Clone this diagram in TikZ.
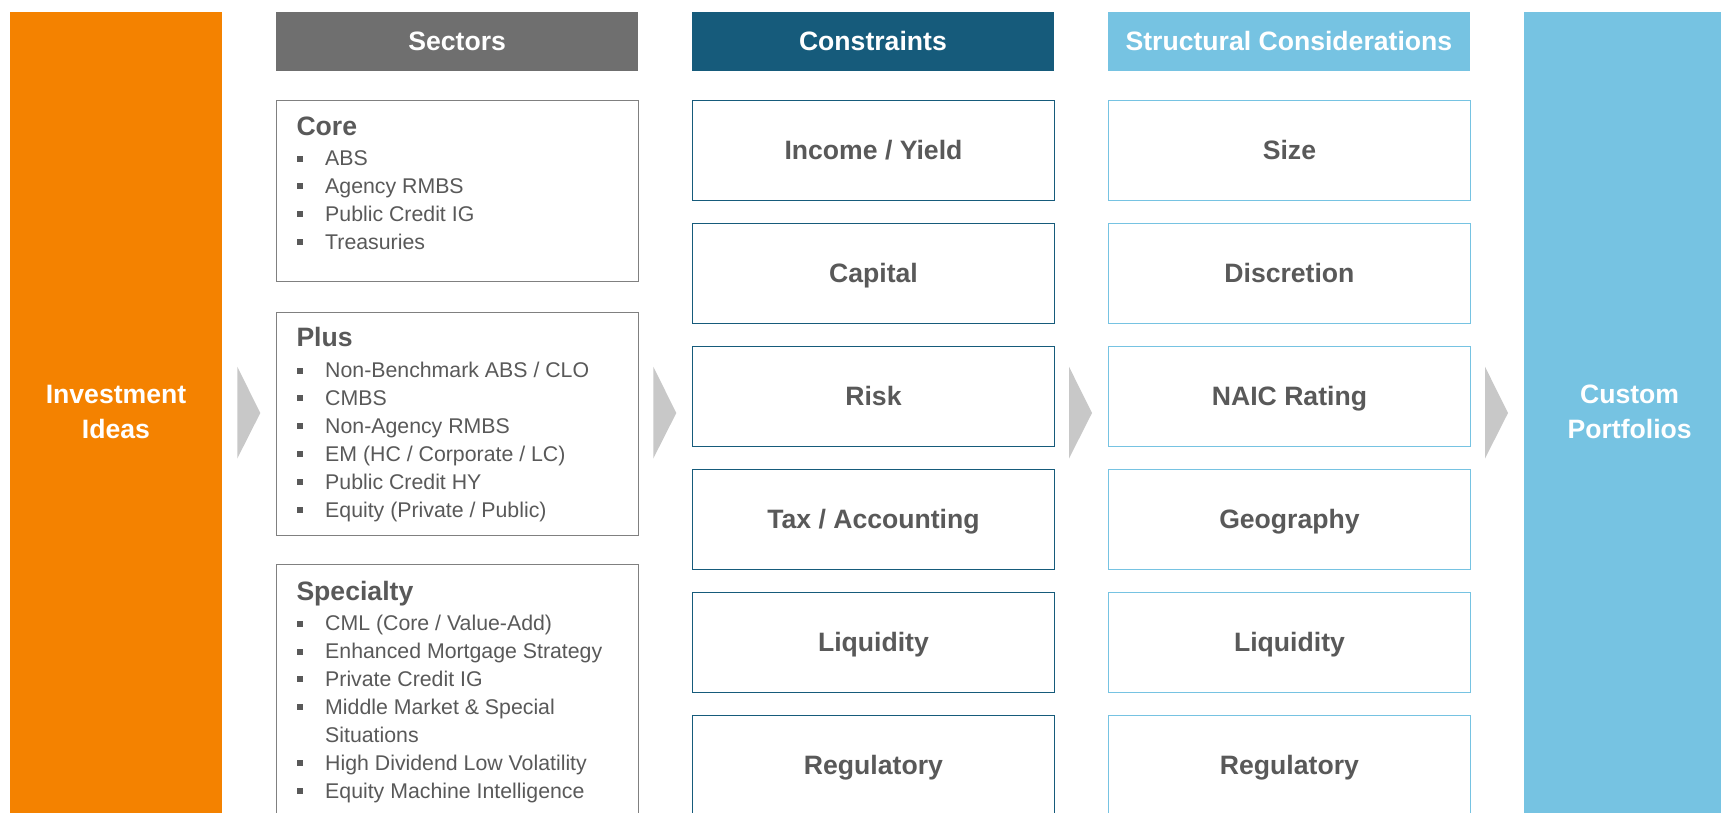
\documentclass[tikz,border=0pt]{standalone}
\usepackage{fontspec}
\setmainfont{Liberation Sans}
\definecolor{iorange}{HTML}{F48200}
\definecolor{hgray}{HTML}{6F6F6F}
\definecolor{cblue}{HTML}{165B7B}
\definecolor{lblue}{HTML}{76C3E2}
\definecolor{bgray}{HTML}{808080}
\definecolor{tgray}{HTML}{595959}
\definecolor{agray}{HTML}{C8C8C8}
\newcommand\bitem[3]{%
  \node[bsq] (#1b) at (300.3,#2-7.2) {};
  \node[itm] (#1) at (325,#2) {#3};}
\begin{document}
\begin{tikzpicture}[x=1pt,y=-1pt,
  bigfont/.style={font=\bfseries\fontsize{26.6}{35.3}\selectfont},
  side/.style={rectangle, inner sep=0pt, anchor=north west, minimum width=212pt, minimum height=830pt},
  sidetxt/.style={bigfont, text=white, align=center, inner sep=0pt},
  hdr/.style={rectangle, inner sep=0pt, anchor=north west, minimum width=362pt, minimum height=58.7pt, text=white, bigfont, text height=17.5pt, text depth=0pt},
  sbox/.style={rectangle, draw=bgray, line width=1.2pt, fill=white, anchor=north west, minimum width=362pt, inner sep=0pt},
  cbox/.style={rectangle, line width=1.5pt, fill=white, anchor=north west, minimum width=362pt, minimum height=100pt, inner sep=0pt, text=tgray, bigfont, text height=17.5pt, text depth=0pt},
  shd/.style={anchor=base west, inner sep=0pt, text=tgray, bigfont},
  itm/.style={anchor=base west, inner sep=0pt, text=tgray, font=\fontsize{21.3}{25}\selectfont},
  bsq/.style={rectangle, fill=tgray, minimum size=6pt, inner sep=0pt},
  chev/.style={fill=agray, draw=none}]
\useasboundingbox (0,0) rectangle (1721,812);
\clip (0,0) rectangle (1721,812);
% side columns
\node[side, fill=iorange] (inv) at (10,12) {};
\node[sidetxt] (invt) at (116,412) {Investment\\Ideas};
\node[side, fill=lblue] (cus) at (1523.6,12) {};
\node[sidetxt] (cust) at (1629.6,411.5) {Custom\\Portfolios};
% headers
\node[hdr, fill=hgray] (hsec) at (276,12) {Sectors};
\node[hdr, fill=cblue] (hcon) at (691.7,12) {Constraints};
\node[hdr, fill=lblue] (hstr) at (1107.7,12) {Structural Considerations};
% sector boxes
\node[sbox, minimum height=181pt] (core) at (276,99.5) {};
\node[sbox, minimum height=222.5pt] (plus) at (276,312) {};
\node[sbox, minimum height=280pt] (spec) at (276,564) {};
\node[shd] (coreh) at (296.3,135) {Core};
\bitem{c1}{165.7}{ABS}
\bitem{c2}{193.6}{Agency RMBS}
\bitem{c3}{221.5}{Public Credit IG}
\bitem{c4}{249.4}{Treasuries}
\node[shd] (plush) at (296.3,346.7) {Plus};
\bitem{p1}{377.7}{Non-Benchmark ABS / CLO}
\bitem{p2}{405.6}{CMBS}
\bitem{p3}{433.5}{Non-Agency RMBS}
\bitem{p4}{461.5}{EM (HC / Corporate / LC)}
\bitem{p5}{489.5}{Public Credit HY}
\bitem{p6}{517.5}{Equity (Private / Public)}
\node[shd] (spech) at (296.3,600) {Specialty};
\bitem{s1}{630.7}{CML (Core / Value-Add)}
\bitem{s2}{658.7}{Enhanced Mortgage Strategy}
\bitem{s3}{686.6}{Private Credit IG}
\bitem{s4}{714.5}{Middle Market \& Special}
\node[itm] (s4b2) at (325,742.4) {Situations};
\bitem{s5}{770.3}{High Dividend Low Volatility}
\bitem{s6}{798.2}{Equity Machine Intelligence}
% constraints
\node[cbox, draw=cblue] (k1) at (691.7,99.5) {Income / Yield};
\node[cbox, draw=cblue] (k2) at (691.7,222.6) {Capital};
\node[cbox, draw=cblue] (k3) at (691.7,345.7) {Risk};
\node[cbox, draw=cblue] (k4) at (691.7,468.6) {Tax / Accounting};
\node[cbox, draw=cblue] (k5) at (691.7,591.6) {Liquidity};
\node[cbox, draw=cblue] (k6) at (691.7,714.5) {Regulatory};
% structural
\node[cbox, draw=lblue] (t1) at (1107.7,99.5) {Size};
\node[cbox, draw=lblue] (t2) at (1107.7,222.6) {Discretion};
\node[cbox, draw=lblue] (t3) at (1107.7,345.7) {NAIC Rating};
\node[cbox, draw=lblue] (t4) at (1107.7,468.6) {Geography};
\node[cbox, draw=lblue] (t5) at (1107.7,591.6) {Liquidity};
\node[cbox, draw=lblue] (t6) at (1107.7,714.5) {Regulatory};
% chevrons
\foreach \x in {237.3,653.3,1069,1485}{
  \fill[chev] (\x,366.7) -- (\x+23,413) -- (\x,458.5) -- cycle;
}
\end{tikzpicture}
\end{document}
